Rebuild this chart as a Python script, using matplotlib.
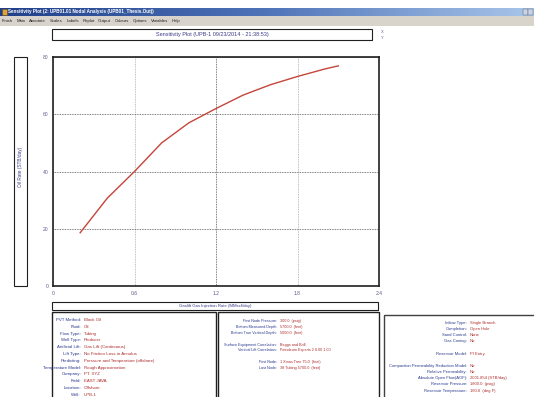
import numpy as np
import matplotlib
matplotlib.use("Agg")
import matplotlib.pyplot as plt
from matplotlib.patches import Rectangle

# Sensitivity result: oil rate vs. gas-lift injection rate
gas_injection = [0.2, 0.4, 0.6, 0.8, 1.0, 1.2, 1.4, 1.6, 1.8, 2.0, 2.1]
oil_rate = [18.6, 30.7, 40.0, 50.0, 57.0, 62.0, 66.7, 70.3, 73.2, 75.8, 76.9]

x_ticks = [0, 0.6, 1.2, 1.8, 2.4]
x_tick_labels = ["0", "0.6", "1.2", "1.8", "2.4"]
y_ticks = [0, 20, 40, 60, 80]
y_tick_labels = ["0", "20", "40", "60", "80"]

window_title = "Sensitivity Plot (2: UPB01.01 Nodal Analysis (UPB01_Thesis.Out))"
menu_items = ["Finish", "Main", "Annotate", "Scales", "Labels", "Replot", "Output",
              "Colours", "Options", "Variables", "Help"]
plot_title = "Sensitivity Plot (UPB-1 09/23/2014 - 21:38:53)"
x_label = "Gaslift Gas Injection Rate (MMscf/day)"
y_label = "Oil Rate (STB/day)"

panel_left = [
    ("PVT Method", "Black Oil"),
    ("Fluid", "Oil"),
    ("Flow Type", "Tubing"),
    ("Well Type", "Producer"),
    ("Artificial Lift", "Gas Lift (Continuous)"),
    ("Lift Type", "No Friction Loss in Annulus"),
    ("Predicting", "Pressure and Temperature (offshore)"),
    ("Temperature Model", "Rough Approximation"),
    ("Company", "PT. XYZ"),
    ("Field", "EAST JAVA"),
    ("Location", "Offshore"),
    ("Well", "UPB-1"),
]
panel_middle = [
    ("First Node Pressure", "300.0  (psig)"),
    ("Bottom Measured Depth", "5700.0  (feet)"),
    ("Bottom True Vertical Depth", "5000.0  (feet)"),
    None,
    ("Surface Equipment Correlation", "Beggs and Brill"),
    ("Vertical Lift Correlation", "Petroleum Experts 2 0.00 1.00"),
    None,
    ("First Node", "1 Xmas Tree 75.0  (feet)"),
    ("Last Node", "38 Tubing 5700.0  (feet)"),
]
panel_right = [
    ("Inflow Type", "Single Branch"),
    ("Completion", "Open Hole"),
    ("Sand Control", "None"),
    ("Gas Coning", "No"),
    None,
    ("Reservoir Model", "PI Entry"),
    None,
    ("Compaction Permeability Reduction Model", "No"),
    ("Relative Permeability", "No"),
    ("Absolute Open Flow(AOF)", "2001.854 (STB/day)"),
    ("Reservoir Pressure", "1800.0  (psig)"),
    ("Reservoir Temperature", "160.0  (deg F)"),
]

W, H = 534, 397
fig = plt.figure(figsize=(W / 100, H / 100), dpi=100)
fig.patch.set_facecolor("white")

LABEL_BLUE = "#2b3a8f"
VALUE_RED = "#b02a2a"
FONT = "Liberation Sans"


def fx(px):
    return px / W


def fy(py):
    return 1 - py / H


def rect(x0, y0, x1, y1, **kw):
    r = Rectangle((fx(x0), fy(y1)), fx(x1) - fx(x0), fy(y0) - fy(y1),
                  transform=fig.transFigure, **kw)
    fig.patches.append(r)
    return r


def text(px, py, s, **kw):
    kw.setdefault("family", FONT)
    return fig.text(fx(px), fy(py), s, **kw)


def shadow_box(x0, y0, x1, y1, lw=0.8):
    rect(x0 + 1.2, y0 + 1.2, x1 + 1.2, y1 + 1.2, facecolor="#404040",
         edgecolor="none", zorder=1)
    rect(x0, y0, x1, y1, facecolor="white", edgecolor="#202020", lw=lw, zorder=2)


# window title bar with gradient
grad = np.linspace(0, 1, 256).reshape(1, -1)
ax_bar = fig.add_axes([fx(0), fy(16), fx(534), fy(8) - fy(16)])
ax_bar.imshow(grad, aspect="auto", cmap=matplotlib.colors.LinearSegmentedColormap.from_list(
    "bar", ["#1f3f8a", "#4f74b8", "#a9c6ea"]), extent=[0, 1, 0, 1])
ax_bar.set_axis_off()
rect(1.5, 9, 7, 15, facecolor="#d9a640", edgecolor="#6b4a10", lw=0.4, zorder=5)
text(8, 12, window_title, fontsize=3.3, color="white", va="center", ha="left",
     fontweight="bold", zorder=6)
for bx in [523, 528]:
    rect(bx, 9.5, bx + 4.5, 14.5, facecolor="#c8d4e6", edgecolor="#556", lw=0.3, zorder=5)

# menu bar
rect(0, 16, 534, 26, facecolor="#d8d4cc", edgecolor="none", zorder=1)
renderer = fig.canvas.get_renderer()
mx = 2
for item in menu_items:
    t = text(mx, 21, item, fontsize=3.1, color="#202020", va="center", ha="left", zorder=3)
    ext = t.get_window_extent(renderer)
    mx += ext.width + 3.6

# plot title box
shadow_box(52, 29, 372, 40)
text(212, 34.5, plot_title, fontsize=4.0, color="#3c3c8c", ha="center", va="center", zorder=3)
text(381, 32, "X", fontsize=3.0, color="#6a5a9a", ha="left", va="center")
text(381, 38, "Y", fontsize=3.0, color="#6a5a9a", ha="left", va="center")

# y label box
shadow_box(14, 57, 27, 286)
text(20.5, 167, y_label, fontsize=3.4, color="#3c3c8c", rotation=90,
     ha="center", va="center", zorder=3)

# x label box
shadow_box(52, 302, 378, 310)
text(215, 306, x_label, fontsize=3.1, color="#3c3c8c", ha="center", va="center", zorder=3)

# main chart
ax = fig.add_axes([fx(53), fy(286), fx(379) - fx(53), fy(57) - fy(286)])
ax.plot(gas_injection, oil_rate, color="#c4453a", lw=1.0, zorder=3)
ax.set_xlim(0, 2.4)
ax.set_ylim(0, 80)
ax.set_xticks(x_ticks)
ax.set_xticklabels(x_tick_labels, family=FONT)
ax.set_yticks(y_ticks)
ax.set_yticklabels(y_tick_labels, family=FONT)
ax.tick_params(length=0, labelsize=3.6, labelcolor="#5a5a8a", pad=3.5)
ax.grid(True, axis="y", color="#555555", lw=0.6, ls=(0, (1, 1)))
ax.grid(True, axis="x", color="#aaaaaa", lw=0.6, ls=(0, (1, 1)))
ax.get_xgridlines()[2].set_color("#555555")
for sp in ax.spines.values():
    sp.set_color("#202020")
    sp.set_linewidth(1.2)
ax.set_zorder(4)

# information panels
rect(52, 312, 216, 400, facecolor="white", edgecolor="#202020", lw=1.0, zorder=2)
rect(218, 312, 379, 400, facecolor="white", edgecolor="#202020", lw=1.0, zorder=2)
rect(384, 315, 536, 400, facecolor="white", edgecolor="#404040", lw=1.0, zorder=2)


def panel(rows, split_x, y0, dy, size):
    y = y0
    for row in rows:
        if row is not None:
            lab, val = row
            text(split_x - 1, y, lab + ":", fontsize=size, color=LABEL_BLUE,
                 ha="right", va="center", zorder=3)
            text(split_x + 1.5, y, val, fontsize=size, color=VALUE_RED,
                 ha="left", va="center", zorder=3)
        y += dy


panel(panel_left, 82, 320, 6.8, 3.2)
panel(panel_middle, 278, 321, 5.9, 2.7)
panel(panel_right, 468, 323, 6.15, 3.0)

fig.savefig("out.png", dpi=100)
